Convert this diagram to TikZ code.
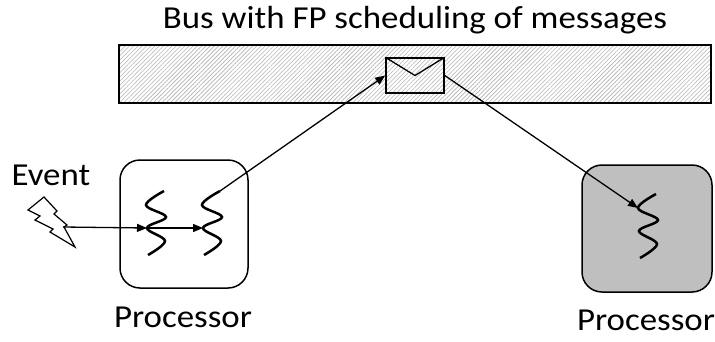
\documentclass[tikz,border=0pt]{standalone}
\usepackage{fontspec}
\setmainfont{Carlito}[FakeStretch=1.09]
\usetikzlibrary{patterns.meta,arrows.meta}

\begin{document}
\begin{tikzpicture}[x=1pt,y=-1pt,
    every node/.style={font=\fontsize{32}{36}\selectfont},
    cpu/.style={draw,line width=1.5pt,rounded corners=20pt,minimum width=128pt,minimum height=128pt},
    msg/.style={-{Triangle[length=10pt,width=8pt]},line width=1.3pt},
    pics/thread/.style={code={
      \draw[line width=2.5pt] plot[smooth,tension=0.6] coordinates {(8,-32) (-10,-18) (10,-6) (-9,5) (9,18) (-8,32)};
      \coordinate (-top) at (8,-32);
      \coordinate (-up) at (-10,-18);
      \coordinate (-in) at (-9,5);
    }}]
  \useasboundingbox (0,0) rectangle (715,341);
  \node[anchor=base] (title) at (415,28) {Bus with FP scheduling of messages};
  \node[draw,line width=1.5pt,minimum width=592pt,minimum height=58pt,
    pattern={Lines[angle=45,distance=3pt,line width=0.6pt]},pattern color=gray!60] (bus) at (415,74) {};
  \node[draw,line width=1.5pt,minimum width=58pt,minimum height=35pt,inner sep=0pt] (env) at (415,75.5) {};
  \draw[line width=1.3pt] (env.north west) -- (env.center) -- (env.north east);
  \node[cpu] (cpuA) at (184,224) {};
  \node[cpu,fill=gray!50,minimum width=130pt,minimum height=127pt] (cpuB) at (647,228.5) {};
  \node[anchor=base west] (event) at (8,185) {Event};
  \node[anchor=base] (labA) at (183,327) {Processor};
  \node[anchor=base] (labB) at (646,330) {Processor};
  \draw[line width=1.2pt,fill=white] (44,197) -- (28,210) -- (40,216) -- (35,220) -- (53,229) -- (50,232)
    -- (75,247) -- (64,227) -- (67,225) -- (54,214) -- (57,211) -- cycle;
  \coordinate (bolt) at (63,227);
  \pic (t1) at (156,223) {thread};
  \pic (t2) at (212,223) {thread};
  \pic (t3) at (648,226) {thread};
  \begin{scope}[msg]
    \draw (bolt) -- (t1-in);
    \draw (t1-in) -- (t2-in);
    \draw (t2-top) -- (env.west);
    \draw (env.east) -- (t3-up);
  \end{scope}
\end{tikzpicture}
\end{document}
